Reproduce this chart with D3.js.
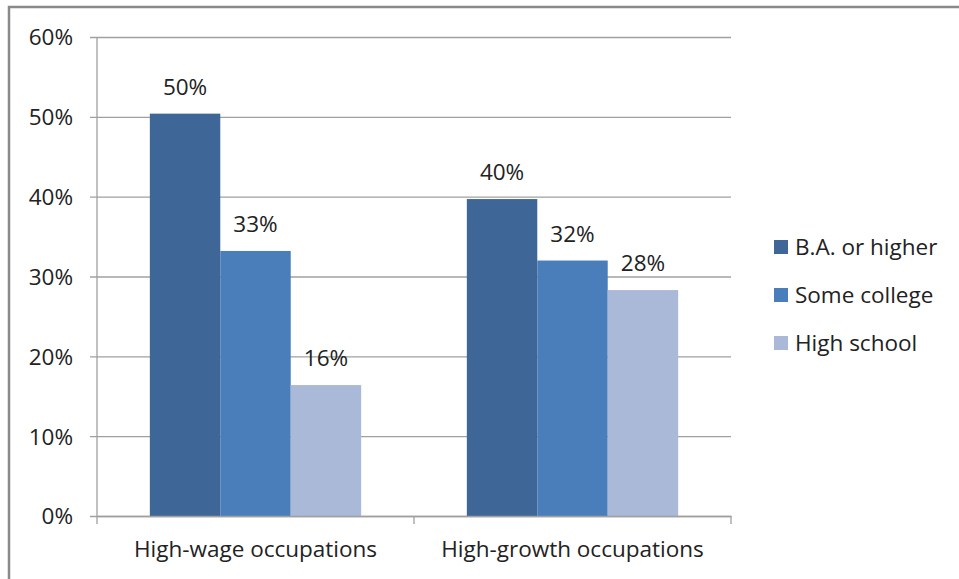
<!DOCTYPE html>
<html>
<head>
<meta charset="utf-8">
<script src="https://cdn.jsdelivr.net/npm/d3@7"></script>
<style>
  body { margin: 0; background: #fff; }
  svg text { font-family: "Open Sans", "Noto Sans", sans-serif; fill: #222; }
</style>
</head>
<body>
<svg id="chart" width="959" height="579"></svg>
<script>
// data
var categories = ["High-wage occupations", "High-growth occupations"];
var seriesNames = ["B.A. or higher", "Some college", "High school"];
var baValues = [50.4, 39.7];
var collegeValues = [33.2, 32.0];
var highSchoolValues = [16.4, 28.3];
var yTicks = [0, 10, 20, 30, 40, 50, 60];
var colors = ["#3E6798", "#4A7EBB", "#AAB9D8"];

var allSeries = [baValues, collegeValues, highSchoolValues];
var fontSize = '22.5px';

var svg = d3.select('#chart');

// outer frame (cut off at right and bottom)
svg.append('rect')
    .attr('x', 9).attr('y', 7)
    .attr('width', 980).attr('height', 600)
    .attr('fill', 'none')
    .attr('stroke', '#8a8a8a')
    .attr('stroke-width', 2.5);

var plotLeft = 97, plotRight = 731, plotTop = 37, plotBottom = 516;

var x0 = d3.scaleBand().domain(categories).range([plotLeft, plotRight]).paddingInner(0).paddingOuter(0);
var x1 = d3.scaleBand().domain(seriesNames).range([0, x0.bandwidth()]).paddingOuter(0.75).paddingInner(0);
var y = d3.scaleLinear().domain([0, 60]).range([plotBottom, plotTop]);

// gridlines + y axis
var yAxis = d3.axisLeft(y)
    .tickValues(yTicks)
    .tickSize(-(plotRight - plotLeft))
    .tickFormat(function (d) { return d + '%'; });

var gy = svg.append('g')
    .attr('transform', 'translate(' + plotLeft + ',0)')
    .call(yAxis);
gy.select('.domain').remove();
gy.selectAll('.tick line').attr('stroke', '#a0a0a0').attr('stroke-width', 1.3).attr('x2', plotRight - plotLeft).attr('x1', -7);
gy.selectAll('.tick text')
    .attr('x', -24)
    .attr('dy', '0.35em')
    .style('font-size', fontSize)
    .style('font-family', '"Open Sans", sans-serif')
    .style('fill', '#222');

// y axis line
svg.append('line')
    .attr('x1', plotLeft).attr('x2', plotLeft)
    .attr('y1', plotTop).attr('y2', plotBottom)
    .attr('stroke', '#a0a0a0').attr('stroke-width', 1.3);

// bars
var groups = svg.append('g').selectAll('g')
    .data(categories)
    .enter()
    .append('g')
    .attr('transform', function (d) { return 'translate(' + x0(d) + ',0)'; });

groups.selectAll('rect')
    .data(function (d, i) {
        return seriesNames.map(function (s, j) { return { name: s, value: allSeries[j][i], idx: j }; });
    })
    .enter()
    .append('rect')
    .attr('x', function (d) { return x1(d.name); })
    .attr('width', x1.bandwidth())
    .attr('y', function (d) { return y(d.value); })
    .attr('height', function (d) { return plotBottom - y(d.value); })
    .attr('fill', function (d) { return colors[d.idx]; });

groups.selectAll('text')
    .data(function (d, i) {
        return seriesNames.map(function (s, j) { return { name: s, value: allSeries[j][i] }; });
    })
    .enter()
    .append('text')
    .attr('x', function (d) { return x1(d.name) + x1.bandwidth() / 2; })
    .attr('y', function (d) { return y(d.value) - 19; })
    .attr('text-anchor', 'middle')
    .style('font-size', fontSize)
    .text(function (d) { return Math.round(d.value) + '%'; });

// x axis
var xAxis = d3.axisBottom(x0).tickSize(0).tickFormat(function (d) { return d; });
var gx = svg.append('g')
    .attr('transform', 'translate(0,' + plotBottom + ')')
    .call(xAxis);
gx.select('.domain').attr('stroke', '#a0a0a0').attr('stroke-width', 1.3);
gx.selectAll('.tick text')
    .attr('y', 41)
    .attr('dy', 0)
    .style('font-size', fontSize)
    .style('font-family', '"Open Sans", sans-serif')
    .style('fill', '#222');

// category separator ticks
svg.append('g').selectAll('line')
    .data([plotLeft, plotLeft + x0.bandwidth(), plotRight])
    .enter()
    .append('line')
    .attr('x1', function (d) { return d; }).attr('x2', function (d) { return d; })
    .attr('y1', plotBottom).attr('y2', plotBottom + 8)
    .attr('stroke', '#a0a0a0').attr('stroke-width', 1.3);

// legend
var legend = svg.append('g').selectAll('g')
    .data(seriesNames)
    .enter()
    .append('g')
    .attr('transform', function (d, i) { return 'translate(774,' + (247 + i * 48) + ')'; });

legend.append('rect')
    .attr('x', 0).attr('y', -7)
    .attr('width', 14).attr('height', 14)
    .attr('fill', function (d, i) { return colors[i]; });

legend.append('text')
    .attr('x', 21)
    .attr('dy', '0.35em')
    .style('font-size', fontSize)
    .text(function (d) { return d; });
</script>
</body>
</html>
